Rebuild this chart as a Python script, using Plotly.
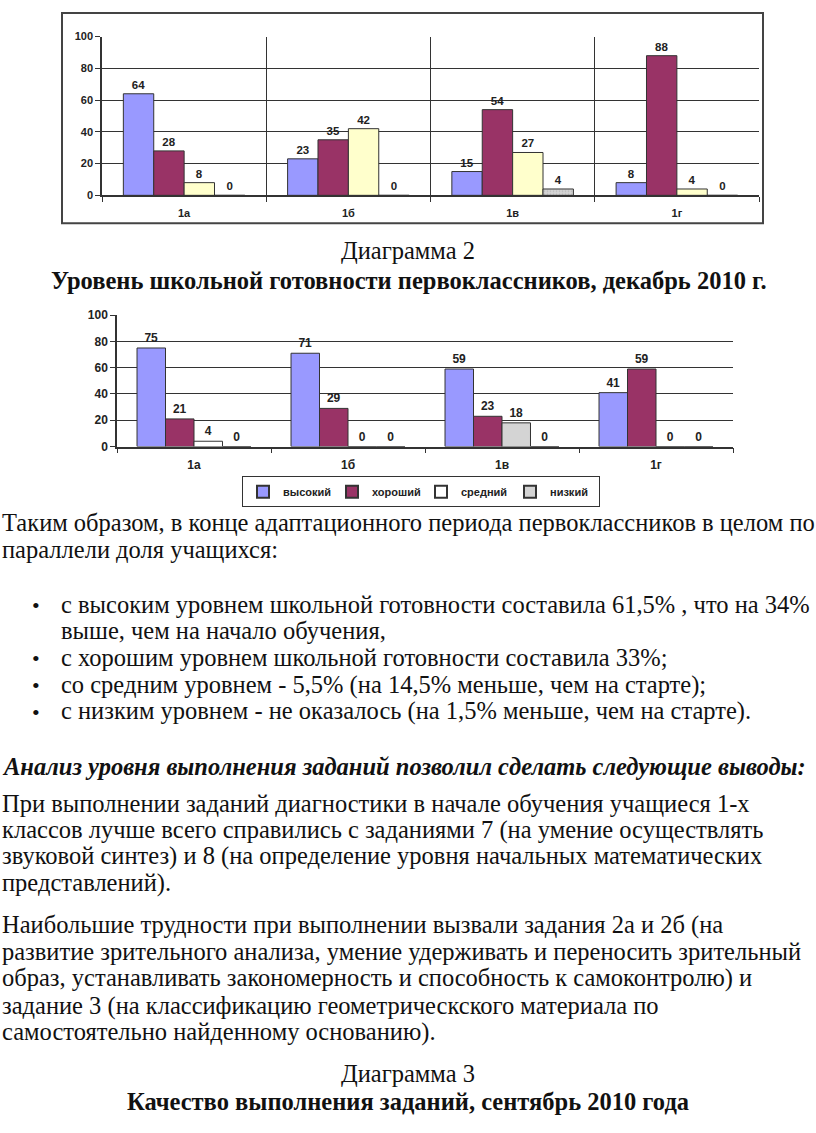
import plotly.graph_objects as go

W, H = 816, 1133


def px(x):
    return x / W


def py(y):
    return 1 - y / H


# ---------------- data ----------------
classes = ["1а", "1б", "1в", "1г"]
levels = ["высокий", "хороший", "средний", "низкий"]

# Diagram 1 (September 2010)
sep_high = [64, 23, 15, 8]
sep_good = [28, 35, 54, 88]
sep_mid = [8, 42, 27, 4]
sep_low = [0, 0, 4, 0]

# Diagram 2 (December 2010)
dec_high = [75, 71, 59, 41]
dec_good = [21, 29, 23, 59]
dec_mid = [4, 0, 18, 0]
dec_low = [0, 0, 0, 0]

y_ticks = [0, 20, 40, 60, 80, 100]

# ---------------- styles ----------------
BLUE = "#9999FF"
MAROON = "#993366"
YELLOW = "#FFFFCC"
WHITE = "#FFFFFF"
GRAY = "#D4D4D4"
EDGE = "#333333"
SANS = "Liberation Sans Narrow, Liberation Sans, Arial"
LBL = dict(family=SANS, size=11.5, color="#222", weight="bold")
LBL2 = dict(family=SANS, size=12, color="#222", weight="bold")

fig = go.Figure()

sep_series = [sep_high, sep_good, sep_mid, sep_low]
sep_colors = [BLUE, MAROON, YELLOW, GRAY]
for name, vals, col in zip(levels, sep_series, sep_colors):
    fig.add_trace(go.Bar(
        x=classes, y=vals, name=name, showlegend=False,
        marker=dict(color=col, line=dict(color=EDGE, width=1),
                    pattern=dict(shape="." if col == GRAY else "", fgcolor="#999", size=3)),
        text=vals, textposition="outside", textfont=LBL, cliponaxis=False,
        xaxis="x", yaxis="y",
    ))

dec_series = [dec_high, dec_good, dec_mid, dec_low]
dec_colors = [
    [BLUE] * 4,
    [MAROON] * 4,
    [WHITE, WHITE, GRAY, WHITE],
    [GRAY] * 4,
]
for name, vals, cols in zip(levels, dec_series, dec_colors):
    fig.add_trace(go.Bar(
        x=classes, y=vals, name=name, showlegend=True,
        marker=dict(color=cols, line=dict(color=EDGE, width=1)),
        text=vals, textposition="outside", textfont=LBL2, cliponaxis=False,
        xaxis="x2", yaxis="y2",
    ))

axfont = dict(family=SANS, size=11, color="#222", weight="bold")
axfont2 = dict(family=SANS, size=12, color="#222", weight="bold")

fig.update_layout(
    width=W, height=H, autosize=False,
    margin=dict(l=0, r=0, t=0, b=0),
    paper_bgcolor="white", plot_bgcolor="white",
    barmode="group", bargap=0.26, bargroupgap=0,
    xaxis=dict(domain=[px(102), px(759)], anchor="y", type="category",
               range=[-0.5, 3.5], tickson="boundaries", showgrid=True,
               gridcolor="#333", gridwidth=1, showline=True, linecolor="#333",
               linewidth=1.5, ticks="outside", ticklen=5, tickcolor="#333",
               tickfont=axfont, ticklabelstandoff=7),
    yaxis=dict(domain=[py(190.7), py(30)], anchor="x", range=[0, 100],
               tickvals=y_ticks, showgrid=True, gridcolor="#333", gridwidth=1,
               showline=True, linecolor="#333", linewidth=1.5, ticks="outside",
               ticklen=5, tickcolor="#333", tickfont=axfont, zeroline=False),
    xaxis2=dict(domain=[px(117), px(733)], anchor="y2", type="category",
                range=[-0.5, 3.5], tickson="boundaries", showgrid=False,
                showline=True, linecolor="#333", linewidth=1.5, ticks="outside",
                ticklen=5, tickcolor="#333", tickfont=axfont2, ticklabelstandoff=6),
    yaxis2=dict(domain=[py(445), py(312)], anchor="x2", range=[0, 100],
                tickvals=y_ticks, showgrid=True, gridcolor="#333", gridwidth=1.2,
                showline=True, linecolor="#333", linewidth=1.5, ticks="outside",
                ticklen=5, tickcolor="#333", tickfont=axfont2, zeroline=False),
    legend=dict(orientation="h", x=px(421), y=py(475), xanchor="center", yanchor="top",
                bordercolor="#333", borderwidth=1, bgcolor="white",
                font=dict(family=SANS, size=11, color="#222", weight="bold"),
                itemwidth=30, entrywidth=44, tracegroupgap=0, itemsizing="constant"),
)

fig.add_shape(type="rect", xref="paper", yref="paper",
              x0=px(62), x1=px(763), y0=py(219), y1=py(6),
              line=dict(color="#444", width=2), layer="below")

SERIF = "Liberation Serif, Times New Roman, serif"
FS = 24.5


def add_text(txt, x, y, anchor="left", size=FS):
    fig.add_annotation(text=txt, xref="paper", yref="paper", x=px(x), y=py(y),
                       xanchor=anchor, yanchor="middle", showarrow=False,
                       font=dict(family=SERIF, size=size, color="#111"))


add_text("Диаграмма 2", 408, 247, "center")
add_text("<b>Уровень школьной готовности первоклассников, декабрь 2010 г.</b>", 409, 277, "center")

add_text("Таким образом, в конце адаптационного периода первоклассников в целом по", 0, 522)
add_text("параллели доля учащихся:", 0, 549)

bullets = [
    (605, "с высоким уровнем школьной готовности составила 61,5% , что на 34%", True),
    (631, "выше, чем на начало обучения,", False),
    (659, "с хорошим уровнем школьной готовности составила 33%;", True),
    (686, "со средним уровнем - 5,5% (на 14,5% меньше, чем на старте);", True),
    (713, "с низким уровнем - не оказалось (на 1,5% меньше, чем на старте).", True),
]
for y, t, dot in bullets:
    if dot:
        add_text("•", 30, y + 1, size=22)
    add_text(t, 59, y)

add_text("<b><i>Анализ уровня выполнения заданий позволил сделать следующие выводы:</i></b>", 0, 769)

para1 = [
    (806, "При выполнении заданий диагностики в начале обучения учащиеся 1-х"),
    (833, "классов лучше всего справились с заданиями 7 (на умение осуществлять"),
    (860, "звуковой синтез) и 8 (на определение уровня начальных математических"),
    (887, "представлений)."),
]
for y, t in para1:
    add_text(t, 0, y)

para2 = [
    (929, "Наибольшие трудности при выполнении вызвали задания 2а и 2б (на"),
    (956, "развитие зрительного анализа, умение удерживать и переносить зрительный"),
    (983, "образ, устанавливать закономерность и способность к самоконтролю) и"),
    (1011, "задание 3 (на классификацию геометрическского материала по"),
    (1038, "самостоятельно найденному основанию)."),
]
for y, t in para2:
    add_text(t, 0, y)

add_text("Диаграмма 3", 408, 1080, "center")
add_text("<b>Качество выполнения заданий, сентябрь 2010 года</b>", 408, 1108, "center")

fig.write_html("out.html", config={"displayModeBar": False},
               post_script="document.body.style.margin='0';")
